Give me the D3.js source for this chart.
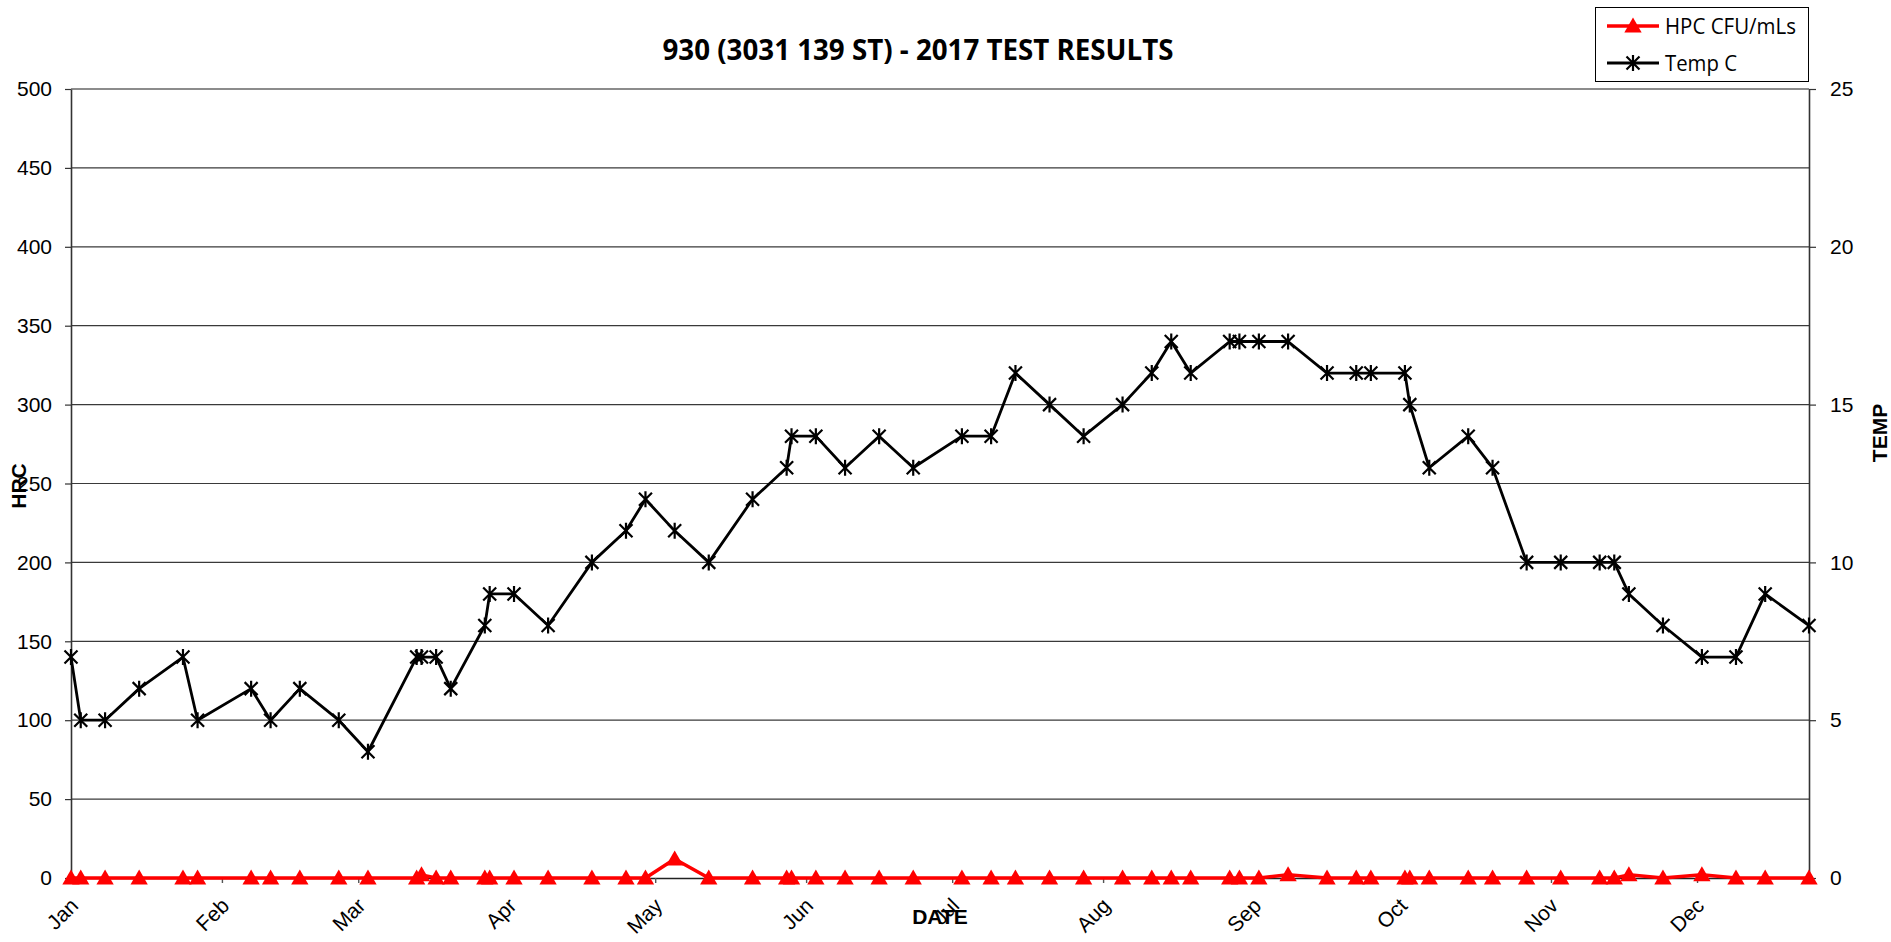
<!DOCTYPE html>
<html>
<head>
<meta charset="utf-8">
<script src="https://cdn.jsdelivr.net/npm/d3@7"></script>
<style>
  html, body { margin: 0; padding: 0; background: #fff; }
  svg { display: block; }
  .tick text { font-family: "Liberation Sans", Arial, sans-serif; font-size: 21px; fill: #000; }
</style>
</head>
<body>
<svg id="chart" width="1891" height="942"></svg>
<script>
// ---- data ----
const sampleDates = [
  "2017-01-01","2017-01-03","2017-01-08","2017-01-15","2017-01-24","2017-01-27",
  "2017-02-07","2017-02-11","2017-02-17","2017-02-25",
  "2017-03-03","2017-03-13","2017-03-14","2017-03-17","2017-03-20","2017-03-27","2017-03-28",
  "2017-04-02","2017-04-09","2017-04-18","2017-04-25","2017-04-29",
  "2017-05-05","2017-05-12","2017-05-21","2017-05-28","2017-05-29",
  "2017-06-03","2017-06-09","2017-06-16","2017-06-23",
  "2017-07-03","2017-07-09","2017-07-14","2017-07-21","2017-07-28",
  "2017-08-05","2017-08-11","2017-08-15","2017-08-19","2017-08-27","2017-08-29",
  "2017-09-02","2017-09-08","2017-09-16","2017-09-22","2017-09-25",
  "2017-10-02","2017-10-03","2017-10-07","2017-10-15","2017-10-20","2017-10-27",
  "2017-11-03","2017-11-11","2017-11-14","2017-11-17","2017-11-24",
  "2017-12-02","2017-12-09","2017-12-15","2017-12-24"
];
const hpcValues = [
  0,0,0,0,0,0,
  0,0,0,0,
  0,0,2,0,0,0,0,
  0,0,0,0,0,
  12,0,0,0,0,
  0,0,0,0,
  0,0,0,0,0,
  0,0,0,0,0,0,
  0,2,0,0,0,
  0,0,0,0,0,0,
  0,0,0,2,0,
  2,0,0,0
];
const tempValues = [
  7,5,5,6,7,5,
  6,5,6,5,
  4,7,7,7,6,8,9,
  9,8,10,11,12,
  11,10,12,13,14,
  14,13,14,13,
  14,14,16,15,14,
  15,16,17,16,17,17,
  17,17,16,16,16,
  16,15,13,14,13,10,
  10,10,10,9,8,
  7,7,9,8
];
const leftTicks = [0,50,100,150,200,250,300,350,400,450,500];
const rightTicks = [0,5,10,15,20,25];
const chartTitle = "930 (3031 139 ST) - 2017 TEST RESULTS";
const seriesNames = ["HPC CFU/mLs", "Temp C"];
const axisTitles = { x: "DATE", left: "HRC", right: "TEMP" };

// ---- layout ----
const plot = { left: 71, right: 1809, top: 89, bottom: 878 };
const svg = d3.select("#chart");
const parse = d3.utcParse("%Y-%m-%d");
const rows = sampleDates.map((d, i) => ({ date: parse(d), hpc: hpcValues[i], temp: tempValues[i] }));

const x = d3.scaleUtc()
  .domain([parse("2017-01-01"), parse("2017-12-24")])
  .range([plot.left, plot.right]);
const yL = d3.scaleLinear().domain([0, 500]).range([plot.bottom, plot.top]);
const yR = d3.scaleLinear().domain([0, 25]).range([plot.bottom, plot.top]);

// gridlines
svg.append("g").selectAll("line").data(leftTicks.filter(v => v > 0)).join("line")
  .attr("x1", plot.left).attr("x2", plot.right)
  .attr("y1", d => yL(d)).attr("y2", d => yL(d))
  .attr("stroke", d => d === 500 ? "#8c8c8c" : "#3a3a3a")
  .attr("stroke-width", d => d === 500 ? 2 : 1.2);

// left axis
const gL = svg.append("g").attr("transform", `translate(${plot.left},0)`)
  .call(d3.axisLeft(yL).tickValues(leftTicks).tickSize(6).tickSizeOuter(0).tickPadding(13));
gL.select(".domain").attr("stroke", "#333").attr("stroke-width", 1.6);
gL.selectAll(".tick line").attr("stroke", "#333").attr("stroke-width", 1.2);

// right axis
const gR = svg.append("g").attr("transform", `translate(${plot.right},0)`)
  .call(d3.axisRight(yR).tickValues(rightTicks).tickSize(7).tickSizeOuter(0).tickPadding(14));
gR.select(".domain").attr("stroke", "#333").attr("stroke-width", 1.6);
gR.selectAll(".tick line").attr("stroke", "#333").attr("stroke-width", 1.2);

// bottom axis
const gB = svg.append("g").attr("transform", `translate(0,${plot.bottom})`)
  .call(d3.axisBottom(x).ticks(d3.utcMonth.every(1)).tickFormat(d3.utcFormat("%b"))
        .tickSize(5).tickSizeOuter(0));
gB.select(".domain").attr("stroke", "#222").attr("stroke-width", 1.4);
gB.selectAll(".tick line").attr("stroke", "#555").attr("stroke-width", 1.4);
gB.selectAll(".tick text")
  .attr("x", 0).attr("y", 0).attr("dy", 0)
  .attr("text-anchor", "end")
  .attr("transform", "translate(8,29) rotate(-45)");

// temperature line
const tempLine = d3.line().x(d => x(d.date)).y(d => yR(d.temp));
svg.append("path").datum(rows)
  .attr("d", tempLine).attr("fill", "none")
  .attr("stroke", "#000").attr("stroke-width", 2.8).attr("stroke-linejoin", "round");

const starPath = "M-6.5,-6.5L6.5,6.5M-6.5,6.5L6.5,-6.5M0,-8L0,8";
svg.append("g").selectAll("path").data(rows).join("path")
  .attr("transform", d => `translate(${x(d.date)},${yR(d.temp)})`)
  .attr("d", starPath).attr("fill", "none")
  .attr("stroke", "#000").attr("stroke-width", 2.2);

// HPC line
const hpcLine = d3.line().x(d => x(d.date)).y(d => yL(d.hpc));
svg.append("path").datum(rows)
  .attr("d", hpcLine).attr("fill", "none")
  .attr("stroke", "#ff0000").attr("stroke-width", 3.5).attr("stroke-linejoin", "round");

const tri = d3.symbol().type(d3.symbolTriangle).size(130);
svg.append("g").selectAll("path").data(rows).join("path")
  .attr("transform", d => `translate(${x(d.date)},${yL(d.hpc) + 1.5})`)
  .attr("d", tri).attr("fill", "#ff0000");

// title
svg.append("text")
  .attr("x", 918).attr("y", 60)
  .attr("text-anchor", "middle")
  .attr("font-family", "'Open Sans', 'Liberation Sans', sans-serif")
  .attr("font-weight", 700).attr("font-size", 29)
  .attr("textLength", 511).attr("lengthAdjust", "spacingAndGlyphs")
  .text(chartTitle);

// axis titles
const boldFont = "'Liberation Sans', Arial, sans-serif";
svg.append("text").attr("x", 940).attr("y", 924).attr("text-anchor", "middle")
  .attr("font-family", boldFont).attr("font-weight", 700).attr("font-size", 21)
  .text(axisTitles.x);
svg.append("text").attr("transform", "translate(26,486) rotate(-90)").attr("text-anchor", "middle")
  .attr("font-family", boldFont).attr("font-weight", 700).attr("font-size", 21)
  .text(axisTitles.left);
svg.append("text").attr("transform", "translate(1887,433) rotate(-90)").attr("text-anchor", "middle")
  .attr("font-family", boldFont).attr("font-weight", 700).attr("font-size", 21)
  .text(axisTitles.right);

// legend
const lg = svg.append("g");
lg.append("rect").attr("x", 1595.5).attr("y", 7.5).attr("width", 213).attr("height", 74)
  .attr("fill", "#fff").attr("stroke", "#000").attr("stroke-width", 1);
const legendRows = [
  { name: seriesNames[0], color: "#ff0000", y: 26, marker: "tri", len: 131 },
  { name: seriesNames[1], color: "#000", y: 63, marker: "star", len: 72 }
];
legendRows.forEach(r => {
  lg.append("line").attr("x1", 1607).attr("x2", 1659).attr("y1", r.y).attr("y2", r.y)
    .attr("stroke", r.color).attr("stroke-width", r.marker === "tri" ? 3.5 : 2.8);
  if (r.marker === "tri") {
    lg.append("path").attr("transform", `translate(1633,${r.y + 1.5})`).attr("d", tri).attr("fill", r.color);
  } else {
    lg.append("path").attr("transform", `translate(1633,${r.y})`).attr("d", starPath)
      .attr("fill", "none").attr("stroke", r.color).attr("stroke-width", 2.2);
  }
  lg.append("text").attr("x", 1665).attr("y", r.y + 7.5)
    .attr("font-family", "'Open Sans', 'Liberation Sans', sans-serif").attr("font-size", 21)
    .attr("textLength", r.len).attr("lengthAdjust", "spacingAndGlyphs")
    .text(r.name);
});
</script>
</body>
</html>
